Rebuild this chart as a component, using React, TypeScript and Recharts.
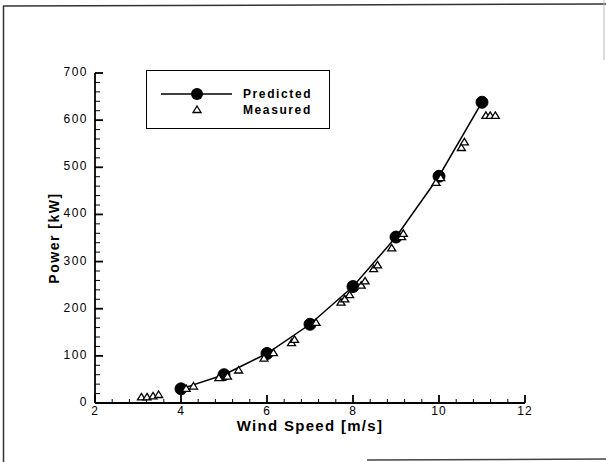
import { ComposedChart, Line, Scatter, XAxis, YAxis } from 'recharts'

// predicted power curve (circles joined by a line)
const predictedSpeed = [4, 5, 6, 7, 8, 9, 10, 11]
const predictedPower = [30, 60, 105, 167, 247, 352, 481, 638]

// measured points (open triangles)
const measuredSpeed = [3.08, 3.21, 3.35, 3.48, 4.12, 4.29, 4.88, 5.08, 5.34, 5.93, 6.15, 6.57, 6.64, 7.14, 7.72, 7.81, 7.92, 8.19, 8.28, 8.48, 8.57, 8.9, 9.13, 9.17, 9.93, 10.04, 10.52, 10.59, 11.09, 11.19, 11.31]
const measuredPower = [13, 13, 15, 18, 31, 36, 54, 57, 70, 95, 107, 128, 135, 171, 214, 221, 230, 250, 259, 285, 293, 329, 353, 360, 468, 478, 542, 554, 610, 610, 610]

const xMajor = [2, 4, 6, 8, 10, 12]
const yMajor = [0, 100, 200, 300, 400, 500, 600, 700]

// minor ticks: 4 between each pair of majors
const xTicks = Array.from({ length: 26 }, (_, k) => (20 + 4 * k) / 10)
const yTicks = Array.from({ length: 36 }, (_, k) => k * 20)

const predicted = predictedSpeed.map((s, i) => ({ speed: s, power: predictedPower[i] }))
const measured = measuredSpeed.map((s, i) => ({ speed: s, power: measuredPower[i] }))

const font = 'Arial, "Liberation Sans", Helvetica, sans-serif'

const XTick = (props: any) => {
  const { x, y, payload } = props
  const major = xMajor.includes(payload.value)
  return (
    <g>
      <line x1={x} x2={x} y1={y} y2={y - (major ? 8 : 4)} stroke="#000" strokeWidth={major ? 1.8 : 1} />
      {major && (
        <text x={x} y={y + 12} textAnchor="middle" fontSize={12} fontFamily={font} letterSpacing={1} fill="#000">
          {payload.value}
        </text>
      )}
    </g>
  )
}

const YTick = (props: any) => {
  const { x, y, payload } = props
  const major = yMajor.includes(payload.value)
  return (
    <g>
      <line x1={x} x2={x + (major ? 8 : 5)} y1={y} y2={y} stroke="#000" strokeWidth={major ? 1.8 : 1} />
      {major && (
        <text x={x - 7} y={y + 3} textAnchor="end" fontSize={12} fontFamily={font} letterSpacing={1.5} fill="#000">
          {payload.value}
        </text>
      )}
    </g>
  )
}

const Triangle = (props: any) => {
  const { cx, cy } = props
  return (
    <path
      d={`M${cx},${cy - 3.5} L${cx + 4},${cy + 3} L${cx - 4},${cy + 3} Z`}
      fill="#fff"
      stroke="#000"
      strokeWidth={1.3}
    />
  )
}

export default function App() {
  return (
    <div style={{ position: 'absolute', left: 0, top: 0, width: 606, height: 462, background: '#fff' }}>
      <ComposedChart width={606} height={462} margin={{ top: 73, right: 81, left: 35, bottom: 29 }}>
        <XAxis
          type="number"
          dataKey="speed"
          domain={[2, 12]}
          ticks={xTicks}
          interval={0}
          tickSize={0}
          tickMargin={0}
          tick={<XTick />}
          axisLine={{ stroke: '#000', strokeWidth: 1.8 }}
          height={30}
          allowDataOverflow
          label={{
            value: 'Wind Speed [m/s]',
            position: 'insideBottom',
            offset: 2,
            fill: '#000',
            fontSize: 15,
            fontWeight: 'bold',
            fontFamily: font,
            letterSpacing: 1.3,
          }}
        />
        <YAxis
          type="number"
          dataKey="power"
          domain={[0, 700]}
          ticks={yTicks}
          interval={0}
          tickSize={0}
          tickMargin={0}
          tick={<YTick />}
          axisLine={{ stroke: '#000', strokeWidth: 1.8 }}
          width={60}
          allowDataOverflow
          label={{
            value: 'Power [kW]',
            angle: -90,
            position: 'insideLeft',
            offset: 19,
            fill: '#000',
            fontSize: 14,
            fontWeight: 'bold',
            fontFamily: font,
            letterSpacing: 1.5,
            style: { textAnchor: 'middle' },
          }}
        />
        <Line
          data={predicted}
          dataKey="power"
          type="linear"
          stroke="#000"
          strokeWidth={1.5}
          dot={{ r: 6, fill: '#000', stroke: '#000', strokeWidth: 1 }}
          activeDot={false}
          isAnimationActive={false}
        />
        <Scatter data={measured} dataKey="power" shape={<Triangle />} isAnimationActive={false} />
      </ComposedChart>

      {/* legend box */}
      <div
        style={{
          position: 'absolute',
          left: 146,
          top: 70,
          width: 182,
          height: 57,
          border: '1px solid #000',
          background: '#fff',
          fontFamily: font,
          fontWeight: 'bold',
          fontSize: 12,
          letterSpacing: 1.6,
          color: '#000',
        }}
      >
        <svg width={182} height={57} style={{ position: 'absolute', left: 0, top: 0 }}>
          <line x1={14} x2={85} y1={23} y2={23} stroke="#000" strokeWidth={1.5} />
          <circle cx={50} cy={23} r={6} fill="#000" />
          <path d="M50,35 L54,41.5 L46,41.5 Z" fill="#fff" stroke="#000" strokeWidth={1.3} />
          <text x={96} y={27} fontSize={12} fontWeight="bold" fontFamily={font} letterSpacing={1.6}>Predicted</text>
          <text x={96} y={43} fontSize={12} fontWeight="bold" fontFamily={font} letterSpacing={1.6}>Measured</text>
        </svg>
      </div>

      {/* scanned page frame */}
      <svg width={606} height={462} style={{ position: 'absolute', left: 0, top: 0, pointerEvents: 'none' }}>
        <line x1={3} y1={6} x2={606} y2={4} stroke="#333" strokeWidth={1.5} />
        <line x1={3.5} y1={6} x2={3.5} y2={462} stroke="#333" strokeWidth={1.5} />
        <line x1={367} y1={460} x2={606} y2={459} stroke="#444" strokeWidth={1.5} />
        <line x1={604} y1={0} x2={604} y2={60} stroke="#bbb" strokeWidth={1} />
      </svg>
    </div>
  )
}
